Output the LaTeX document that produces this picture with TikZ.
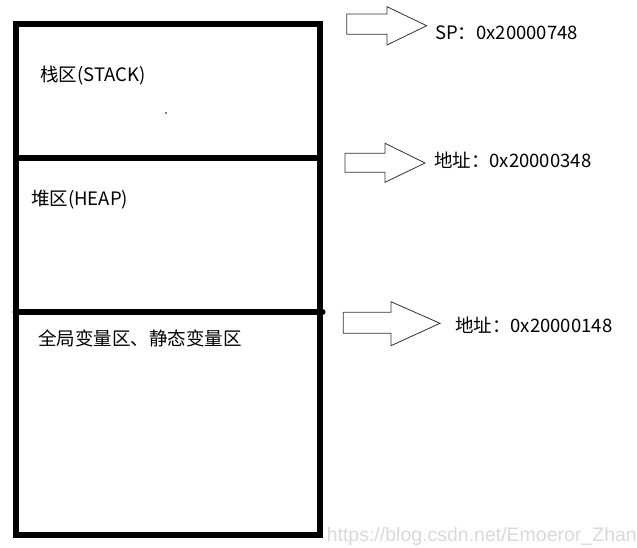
\documentclass[tikz,border=0pt]{standalone}
\usepackage{fontspec}
\newfontfamily\cjk{Noto Sans CJK SC}
\newfontfamily\wmfont{Liberation Sans}
\usetikzlibrary{positioning}

\tikzset{
  wall/.style={line width=6pt},
  lbl/.style={font=\cjk\fontsize{18.5}{20}\selectfont, anchor=west, inner sep=0pt},
  blockarrow/.style={draw=black!80, line width=0.8pt, fill=white, line join=miter},
}

\begin{document}
\begin{tikzpicture}[x=1pt, y=-1pt]
  \useasboundingbox (0,0) rectangle (637,547);
  % memoire
  \draw[wall] (15.5,23.7) rectangle (319.7,535.3);
  \draw[wall] (15.5,158) -- (319.7,158);
  \draw[wall, line cap=round] (15.5,312) -- (322.5,312);
  \fill (166,113) circle (0.9pt);
  \node[lbl] (stack) at (40,76) {栈区(STACK)};
  \node[lbl] (heap) at (31,200) {堆区(HEAP)};
  \node[lbl] (static) at (38,338) {全局变量区、静态变量区};
  % fleches
  \draw[blockarrow] (346.7,14) -- (387,14) -- (387,6.7) -- (426.7,25.7) -- (387,45) -- (387,34.3) -- (346.7,34.3) -- cycle;
  \draw[blockarrow] (345,153.3) -- (385,153.3) -- (385,143.3) -- (425,163) -- (385,182.3) -- (385,172.3) -- (345,172.3) -- cycle;
  \draw[blockarrow] (343.3,312.3) -- (391,312.3) -- (391,301.7) -- (440,323.3) -- (391,345.7) -- (391,333.3) -- (343.3,333.3) -- cycle;
  % adresses
  \node[lbl] (sp) at (435,33) {SP：0x20000748};
  \node[lbl] (heapaddr) at (434,160) {地址：0x20000348};
  \node[lbl] (staticaddr) at (455,325) {地址：0x20000148};
  \node[font=\wmfont\fontsize{19.5}{21}\selectfont, text=black!15, anchor=east, inner sep=0pt] (wm) at (637,536) {https://blog.csdn.net/Emoeror\_Zhan};
\end{tikzpicture}
\end{document}
